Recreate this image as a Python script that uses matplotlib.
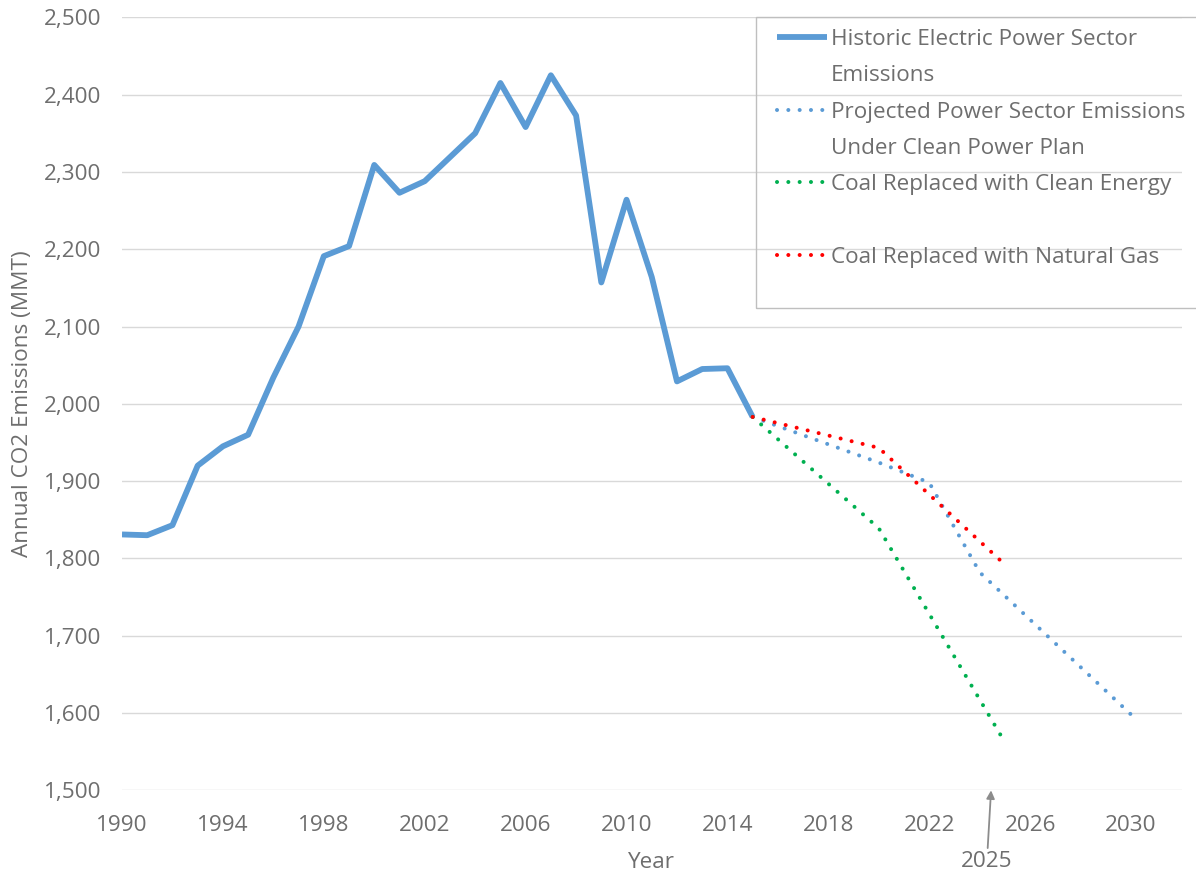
import matplotlib
matplotlib.use("Agg")
import matplotlib.pyplot as plt
from matplotlib.lines import Line2D
from matplotlib.patches import Rectangle

# historic electric power sector emissions (MMT CO2)
hist_years = list(range(1990, 2016))
hist_vals = [1831, 1830, 1843, 1920, 1945, 1960, 2034, 2100, 2191, 2204,
             2309, 2273, 2288, 2319, 2350, 2415, 2358, 2425, 2373, 2157,
             2264, 2164, 2029, 2045, 2046, 1983]

# projections
cpp_years = [2015, 2020, 2022, 2024, 2030]
cpp_vals = [1983, 1924, 1898, 1782, 1598]
clean_years = [2015, 2020, 2025]
clean_vals = [1983, 1839, 1562]
gas_years = [2015, 2020, 2025]
gas_vals = [1983, 1943, 1792]

labels = ["Historic Electric Power Sector", "Emissions",
          "Projected Power Sector Emissions", "Under Clean Power Plan",
          "Coal Replaced with Clean Energy", "",
          "Coal Replaced with Natural Gas"]

txt = '#6e6e6e'
blue = '#5B9BD5'
green = '#00B050'
red = '#FF0000'

plt.rcParams['font.family'] = ['Open Sans', 'DejaVu Sans']
fs = 16.2
W, H = 1196, 873

fig = plt.figure(figsize=(W / 100, H / 100), dpi=100)
ax = fig.add_axes([0.1020, 0.0947, 0.8859, 0.8855])

dots = (0, (0.01, 2.8))
h1, = ax.plot(hist_years, hist_vals, color=blue, lw=4.2,
              solid_joinstyle='round', solid_capstyle='butt', zorder=3)
h2, = ax.plot(cpp_years, cpp_vals, color=blue, lw=2.9, linestyle=dots,
              dash_capstyle='round', zorder=3)
h3, = ax.plot(clean_years, clean_vals, color=green, lw=2.9, linestyle=dots,
              dash_capstyle='round', zorder=3)
h4, = ax.plot(gas_years, gas_vals, color=red, lw=2.9, linestyle=dots,
              dash_capstyle='round', zorder=4)

ax.set_xlim(1990, 2032)
ax.set_ylim(1500, 2500)
ax.set_xticks(range(1990, 2031, 4))
ax.set_yticks(range(1500, 2501, 100))
ax.set_yticklabels([f"{v:,}" for v in range(1500, 2501, 100)])
ax.grid(axis='y', color='#D9D9D9', lw=1.0)
ax.set_axisbelow(True)
for s in ax.spines.values():
    s.set_visible(False)
ax.tick_params(length=0, labelsize=fs, colors=txt)
ax.tick_params(axis='x', pad=18)
ax.tick_params(axis='y', pad=15)

ax.set_xlabel('Year', fontsize=fs, color=txt, labelpad=11)
ax.set_ylabel('Annual CO2 Emissions (MMT)', fontsize=fs, color=txt, labelpad=8)

ax.annotate('2025', xy=(2024.45, 1500), xycoords='data',
            xytext=(-3, -71 * 0.72), textcoords='offset points',
            ha='center', va='center', fontsize=fs, color=txt,
            annotation_clip=False,
            arrowprops=dict(arrowstyle='-|>', color='#8c8c8c', lw=1.3,
                            mutation_scale=12, shrinkA=0, shrinkB=0))

# legend frame (right side runs off the figure like the original)
fig.patches.append(Rectangle((756 / W, 1 - 308 / H), (W + 10 - 756) / W, 291 / H,
                             transform=fig.transFigure, fill=False,
                             edgecolor='#BFBFBF', lw=1.0, zorder=5))

blank = Line2D([], [], color='none')
leg = fig.legend([h1, blank, h2, blank, h3, blank, h4], labels,
                 loc='upper left', bbox_to_anchor=(777 / W, 1 - 29 / H),
                 bbox_transform=fig.transFigure, borderaxespad=0,
                 fontsize=fs, frameon=False, handlelength=2.2,
                 handletextpad=0.2, borderpad=0, labelspacing=0.68)
for t in leg.get_texts():
    t.set_color(txt)

fig.savefig('out.png', dpi=100)
